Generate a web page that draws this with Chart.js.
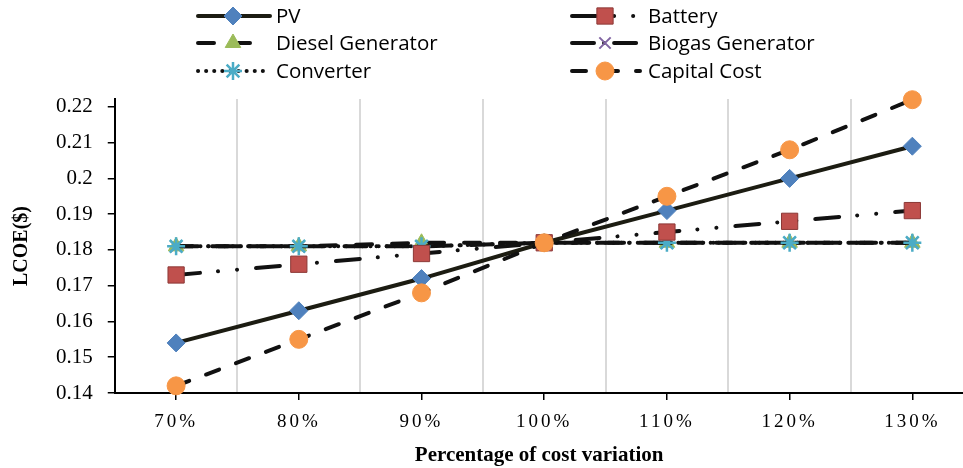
<!DOCTYPE html>
<html>
<head>
<meta charset="utf-8">
<script src="https://cdn.jsdelivr.net/npm/chart.js@4.4.1/dist/chart.umd.min.js"></script>
<style>
  html, body { margin: 0; padding: 0; background: #fff; overflow: hidden; }
  #wrap { width: 976px; height: 468px; }
</style>
</head>
<body>
<div id="wrap"><canvas id="c" width="976" height="468"></canvas></div>
<script>
// ---- data ----
const xValues = [70, 80, 90, 100, 110, 120, 130];           // cost variation (%)
const pvValues        = [0.154, 0.163, 0.172, 0.182, 0.191, 0.200, 0.209];
const batteryValues   = [0.173, 0.176, 0.179, 0.182, 0.185, 0.188, 0.191];
const dieselValues    = [0.181, 0.181, 0.182, 0.182, 0.182, 0.182, 0.182];
const biogasValues    = [0.181, 0.181, 0.181, 0.182, 0.182, 0.182, 0.182];
const converterValues = [0.181, 0.181, 0.181, 0.182, 0.182, 0.182, 0.182];
const capitalValues   = [0.142, 0.155, 0.168, 0.182, 0.195, 0.208, 0.222];
const yTickValues = [0.14, 0.15, 0.16, 0.17, 0.18, 0.19, 0.2, 0.21, 0.22];
const xGridValues = [75, 85, 95, 105, 115, 125];
const seriesNames = ['PV', 'Battery', 'Diesel Generator', 'Biogas Generator', 'Converter', 'Capital Cost'];
const xTitle = 'Percentage of cost variation';
const yTitle = 'LCOE($)';

const LINE = '#111';
function ds(label, data, opts) {
  return Object.assign({
    label, data,
    borderColor: LINE, borderWidth: 4, borderCapStyle: 'round',
    pointRadius: 9, pointHoverRadius: 9, pointBorderWidth: 1,
    tension: 0, clip: false, fill: false
  }, opts);
}

const datasets = [
  ds(seriesNames[0], pvValues, { borderColor: '#1c1c12', pointStyle: 'rectRot', pointRadius: 9, pointBackgroundColor: '#4f81bd', pointBorderColor: '#4f81bd', order: 2 }),
  ds(seriesNames[1], batteryValues, { borderDash: [24, 18, 0.1, 19, 0.1, 19], pointStyle: 'rect', pointRadius: 11.5, pointBackgroundColor: '#c0504d', pointBorderColor: '#8c3836', order: 3 }),
  ds(seriesNames[2], dieselValues, { borderDash: [16, 20], pointStyle: 'triangle', pointRadius: 9, pointBackgroundColor: '#9bbb59', pointBorderColor: '#9bbb59', order: 6 }),
  ds(seriesNames[3], biogasValues, { borderDash: [22, 10, 0.1, 10], pointStyle: 'crossRot', pointRadius: 8, pointBorderWidth: 2, pointBackgroundColor: '#8064a2', pointBorderColor: '#8064a2', order: 5 }),
  ds(seriesNames[4], converterValues, { borderDash: [0.1, 8], pointStyle: 'star', pointRadius: 9, pointBorderWidth: 2.5, pointBackgroundColor: '#4bacc6', pointBorderColor: '#4bacc6', order: 4 }),
  ds(seriesNames[5], capitalValues, { borderDash: [14, 18], pointStyle: 'circle', pointRadius: 9, pointBackgroundColor: '#f79646', pointBorderColor: '#f79646', order: 1 })
];

// custom legend drawn on canvas, line + marker like the original
const legendPlugin = {
  id: 'lineLegend',
  afterDraw(chart) {
    const ctx = chart.ctx;
    const rowsY = [16, 43, 71];
    const cols = [
      { x1: 198, x2: 270, mx: 233, tx: 276 },
      { x1: 572, x2: 640, mx: 605, tx: 648 }
    ];
    const layout = [[0, 0], [1, 0], [0, 1], [1, 1], [0, 2], [1, 2]]; // [col,row] per dataset
    chart.data.datasets.forEach((d, i) => {
      const c = cols[layout[i][0]];
      const y = rowsY[layout[i][1]];
      ctx.save();
      ctx.strokeStyle = d.borderColor;
      ctx.lineWidth = 4;
      ctx.lineCap = 'round';
      ctx.setLineDash(d.borderDash || []);
      ctx.beginPath();
      ctx.moveTo(c.x1, y);
      ctx.lineTo(c.x2, y);
      ctx.stroke();
      ctx.restore();
      ctx.save();
      ctx.fillStyle = d.pointBackgroundColor;
      ctx.strokeStyle = d.pointBorderColor;
      ctx.lineWidth = d.pointBorderWidth;
      Chart.helpers.drawPoint(ctx, { pointStyle: d.pointStyle, radius: d.pointRadius, rotation: 0, borderWidth: d.pointBorderWidth }, c.mx, y);
      ctx.restore();
      ctx.save();
      ctx.fillStyle = '#000';
      ctx.font = '20.5px "Open Sans"';
      ctx.textBaseline = 'middle';
      ctx.textAlign = 'left';
      ctx.fillText(d.label, c.tx, y + 1);
      ctx.restore();
    });
  }
};

// wider letter spacing for x tick labels
const xTickPlugin = {
  id: 'xTickStyle',
  afterLayout(chart) {
    const s = chart.scales.x;
    if (!s._spaced) {
      const orig = s.drawLabels;
      s.drawLabels = function (ca) {
        const ctx = this.ctx;
        ctx.save();
        ctx.letterSpacing = '3px';
        orig.call(this, ca);
        ctx.restore();
      };
      s._spaced = true;
    }
  }
};

const X_MIN = 65, X_MAX = 134.17;

new Chart(document.getElementById('c'), {
  type: 'line',
  data: { labels: xValues, datasets },
  options: {
    responsive: false,
    animation: false,
    events: [],
    layout: { padding: { top: 99, right: 0, left: 0, bottom: 0 } },
    plugins: { legend: { display: false }, tooltip: { enabled: false } },
    scales: {
      x: {
        type: 'linear',
        position: 'bottom',
        min: X_MIN, max: X_MAX,
        afterBuildTicks(scale) { scale.ticks = xValues.map(v => ({ value: v })); },
        grid: { display: true, drawOnChartArea: false, drawTicks: true, tickLength: 7, color: '#000', lineWidth: 1.5 },
        border: { display: true, color: '#000', width: 2 },
        ticks: { color: '#000', font: { family: 'Liberation Serif', size: 19 }, padding: 11, maxRotation: 0, callback: v => v + '%' },
        title: { display: true, text: xTitle, color: '#000', font: { family: 'Liberation Serif', size: 21, weight: 'bold' }, padding: { top: -2, bottom: 0 } }
      },
      xg: {
        type: 'linear',
        position: 'top',
        min: X_MIN, max: X_MAX,
        afterBuildTicks(scale) { scale.ticks = xGridValues.map(v => ({ value: v })); },
        grid: { display: true, drawTicks: false, color: '#d9d9d9', lineWidth: 2 },
        border: { display: false },
        ticks: { display: false }
      },
      y: {
        min: 0.14,
        max: 0.2222,
        afterBuildTicks(scale) { scale.ticks = yTickValues.map(v => ({ value: v })); },
        grid: { display: true, drawOnChartArea: false, drawTicks: true, tickLength: 7, color: '#000', lineWidth: 1.5 },
        border: { display: true, color: '#000', width: 2 },
        ticks: { color: '#000', font: { family: 'Liberation Serif', size: 21 }, padding: 15, callback: v => String(+v.toFixed(2)) },
        title: { display: true, text: yTitle, color: '#000', font: { family: 'Liberation Serif', size: 20, weight: 'bold' }, padding: { top: 10, bottom: 7 } }
      }
    }
  },
  plugins: [legendPlugin, xTickPlugin]
});
</script>
</body>
</html>
